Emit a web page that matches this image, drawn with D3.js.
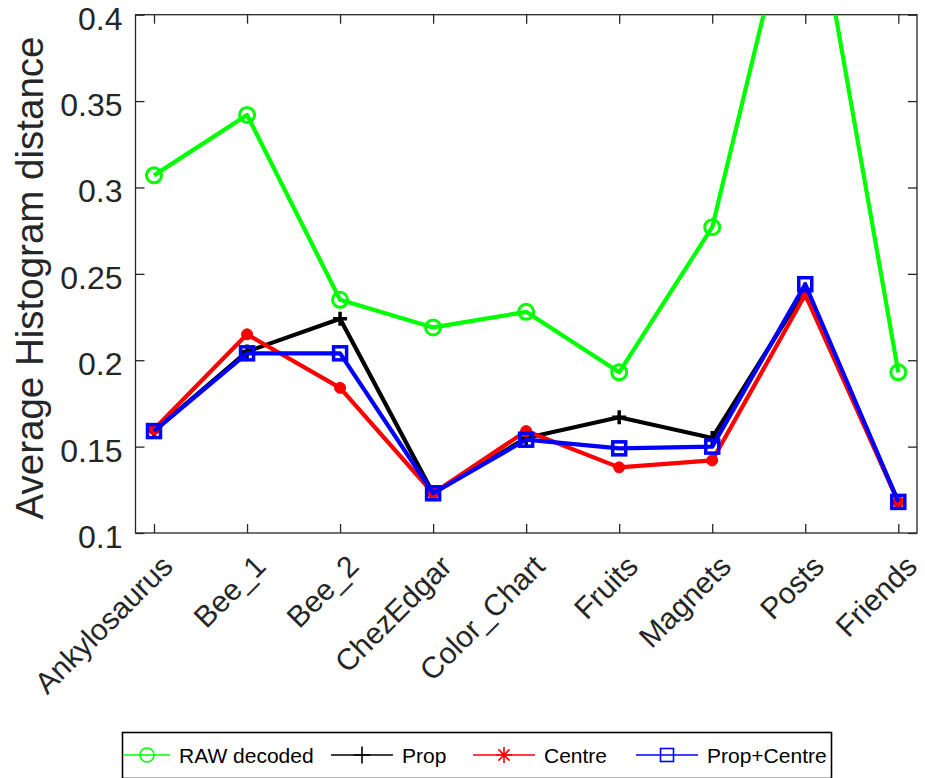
<!DOCTYPE html>
<html>
<head>
<meta charset="utf-8">
<script src="https://cdn.jsdelivr.net/npm/d3@7/dist/d3.min.js"></script>
<style>
  html, body { margin: 0; padding: 0; background: #fff; }
  svg { display: block; font-family: "Liberation Sans", Arial, Helvetica, sans-serif; }
</style>
</head>
<body>
<svg id="chart" width="925" height="778"></svg>
<script>
// Image sets along the x axis
const categories = ["Ankylosaurus", "Bee_1", "Bee_2", "ChezEdgar", "Color_Chart", "Fruits", "Magnets", "Posts", "Friends"];

// Average histogram distance per method
const rawDecoded  = [0.307, 0.342, 0.235, 0.219, 0.228, 0.193, 0.277, 0.500, 0.193];
const prop        = [0.159, 0.205, 0.224, 0.123, 0.155, 0.167, 0.155, 0.241, 0.118];
const centre      = [0.160, 0.215, 0.184, 0.123, 0.159, 0.138, 0.142, 0.238, 0.118];
const propCentre  = [0.159, 0.204, 0.204, 0.123, 0.154, 0.149, 0.150, 0.244, 0.118];

const yTicks = [0.1, 0.15, 0.2, 0.25, 0.3, 0.35, 0.4];
const yTickLabels = ["0.1", "0.15", "0.2", "0.25", "0.3", "0.35", "0.4"];

const seriesList = [
  { name: "RAW decoded", values: rawDecoded, color: "#00ff00", marker: "circle" },
  { name: "Prop",        values: prop,       color: "#000000", marker: "plus" },
  { name: "Centre",      values: centre,     color: "#ff0000", marker: "dot" },
  { name: "Prop+Centre", values: propCentre, color: "#0000ff", marker: "square" }
];

const svg = d3.select("#chart");
const plot = { left: 135.5, right: 917, top: 14.7, bottom: 533 };

const x = d3.scalePoint().domain(categories)
  .range([plot.left + 18.5, plot.right - 18.7]);
const y = d3.scaleLinear().domain([0.1, 0.4]).range([plot.bottom, plot.top]);

svg.append("defs").append("clipPath").attr("id", "plotClip")
  .append("rect")
  .attr("x", plot.left).attr("y", plot.top)
  .attr("width", plot.right - plot.left).attr("height", plot.bottom - plot.top);

// Axes box
const axisColor = "#262626";
svg.append("rect")
  .attr("x", plot.left).attr("y", plot.top)
  .attr("width", plot.right - plot.left).attr("height", plot.bottom - plot.top)
  .attr("fill", "none").attr("stroke", axisColor).attr("stroke-width", 1.3);

// Y axis
const yAxis = d3.axisLeft(y).tickValues(yTicks)
  .tickFormat((d, i) => yTickLabels[i]).tickSize(-9).tickPadding(13);
const gy = svg.append("g").attr("transform", `translate(${plot.left},0)`).call(yAxis);
gy.select(".domain").remove();
gy.selectAll(".tick line").attr("stroke", axisColor).attr("stroke-width", 1.3);
gy.selectAll(".tick text").attr("fill", "#262626").attr("dy", "0.45em").style("font-size", "32px");

// right-side ticks
const gyr = svg.append("g").attr("transform", `translate(${plot.right},0)`)
  .call(d3.axisRight(y).tickValues(yTicks).tickSize(-9).tickFormat(""));
gyr.select(".domain").remove();
gyr.selectAll(".tick line").attr("stroke", axisColor).attr("stroke-width", 1.3);

// X axis (bottom) with rotated labels
const gx = svg.append("g").attr("transform", `translate(0,${plot.bottom})`)
  .call(d3.axisBottom(x).tickSize(-9).tickFormat(""));
gx.select(".domain").remove();
gx.selectAll(".tick line").attr("stroke", axisColor).attr("stroke-width", 1.3);
gx.selectAll(".tick").append("text")
  .text(d => d)
  .attr("fill", "#262626")
  .attr("text-anchor", "end")
  .style("font-size", "30px")
  .attr("transform", "translate(5,20) rotate(-45)")
  .attr("dy", "0.71em");

// top ticks
const gxt = svg.append("g").attr("transform", `translate(0,${plot.top})`)
  .call(d3.axisTop(x).tickSize(-9).tickFormat(""));
gxt.select(".domain").remove();
gxt.selectAll(".tick line").attr("stroke", axisColor).attr("stroke-width", 1.3);

// Y label
svg.append("text")
  .attr("transform", `translate(43,278) rotate(-90)`)
  .attr("text-anchor", "middle")
  .attr("fill", "#262626")
  .style("font-size", "38.5px")
  .text("Average Histogram distance");

// Marker drawing
function drawMarker(g, type, color, cx, cy, size, sw) {
  if (type === "circle") {
    g.append("circle").attr("cx", cx).attr("cy", cy).attr("r", size)
      .attr("fill", "none").attr("stroke", color).attr("stroke-width", sw);
  } else if (type === "plus") {
    g.append("path")
      .attr("d", `M${cx - size},${cy}H${cx + size}M${cx},${cy - size}V${cy + size}`)
      .attr("stroke", color).attr("stroke-width", sw).attr("fill", "none");
  } else if (type === "dot") {
    g.append("circle").attr("cx", cx).attr("cy", cy).attr("r", size)
      .attr("fill", color).attr("stroke", color).attr("stroke-width", sw);
  } else if (type === "asterisk") {
    let d = `M${cx - size},${cy}H${cx + size}M${cx},${cy - size}V${cy + size}`;
    const k = size * 0.7;
    d += `M${cx - k},${cy - k}L${cx + k},${cy + k}M${cx - k},${cy + k}L${cx + k},${cy - k}`;
    g.append("path").attr("d", d).attr("stroke", color).attr("stroke-width", sw).attr("fill", "none");
  } else if (type === "square") {
    g.append("rect").attr("x", cx - size).attr("y", cy - size)
      .attr("width", 2 * size).attr("height", 2 * size)
      .attr("fill", "none").attr("stroke", color).attr("stroke-width", sw);
  }
}

const plotMarkerSize = { circle: 7.5, plus: 7, dot: 5.5, square: 6.5 };
const plotMarkerWidth = { circle: 3, plus: 3.5, dot: 1, square: 3.5 };

const line = d3.line().x((d, i) => x(categories[i])).y(d => y(d));
const plotG = svg.append("g").attr("clip-path", "url(#plotClip)");

seriesList.forEach(s => {
  const g = plotG.append("g");
  g.append("path").datum(s.values)
    .attr("d", line)
    .attr("fill", "none")
    .attr("stroke", s.color)
    .attr("stroke-width", 4.2)
    .attr("stroke-linejoin", "round");
  s.values.forEach((v, i) => drawMarker(g, s.marker, s.color, x(categories[i]), y(v),
    plotMarkerSize[s.marker], plotMarkerWidth[s.marker]));
});

// Legend
const legend = svg.append("g");
legend.append("rect")
  .attr("x", 122.5).attr("y", 732.5).attr("width", 709).attr("height", 46)
  .attr("fill", "#fff").attr("stroke", "#000").attr("stroke-width", 1.6);

const legendItems = [
  { name: "RAW decoded", color: "#00ff00", marker: "circle",   x1: 124, x2: 170, mx: 147, size: 7 },
  { name: "Prop",        color: "#000000", marker: "plus",     x1: 331, x2: 393, mx: 362, size: 8.5 },
  { name: "Centre",      color: "#ff0000", marker: "asterisk", x1: 473, x2: 535, mx: 504, size: 8 },
  { name: "Prop+Centre", color: "#0000ff", marker: "square",   x1: 636, x2: 698, mx: 667, size: 6.5 }
];
const ly = 755;
legendItems.forEach(it => {
  legend.append("line").attr("x1", it.x1).attr("x2", it.x2)
    .attr("y1", ly).attr("y2", ly).attr("stroke", it.color).attr("stroke-width", 1.6);
  drawMarker(legend, it.marker, it.color, it.mx, ly, it.size, 1.6);
  legend.append("text").attr("x", it.x2 + 9).attr("y", ly).attr("dy", "0.36em")
    .attr("fill", "#000").style("font-size", "21px").text(it.name);
});
</script>
</body>
</html>
